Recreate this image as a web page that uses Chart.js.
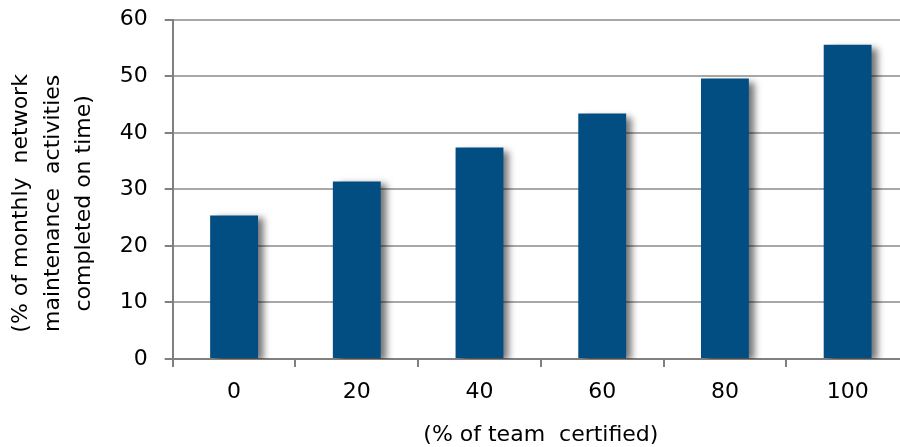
<!DOCTYPE html>
<html>
<head>
<meta charset="utf-8">
<script src="https://cdn.jsdelivr.net/npm/chart.js@4"></script>
<style>
  html, body { margin: 0; padding: 0; background: #fff; overflow: hidden; }
  #wrap { width: 909px; height: 447px; }
</style>
</head>
<body>
<div id="wrap"><canvas id="myChart" width="909" height="447"></canvas></div>
<script>
const categories = ['0', '20', '40', '60', '80', '100'];
const values = [25.4, 31.4, 37.4, 43.4, 49.6, 55.6];
const yTicks = [0, 10, 20, 30, 40, 50, 60];
const yTitle = ['(% of monthly  network    ', 'maintenance  activities    ', 'completed on time)    '];
const xTitle = '(% of team  certified)';

const font = 'DejaVu Sans';

// soft shadow behind the bars
const barShadow = {
    id: 'barShadow',
    beforeDatasetsDraw(chart) {
        const ctx = chart.ctx;
        ctx.save();
        ctx.shadowColor = 'rgba(0, 0, 0, 0.55)';
        ctx.shadowOffsetX = 6;
        ctx.shadowOffsetY = 3;
        ctx.shadowBlur = 7;
    },
    afterDatasetsDraw(chart) {
        chart.ctx.restore();
    }
};

const ctx = document.getElementById('myChart').getContext('2d');
const chart = new Chart(ctx, {
    type: 'bar',
    data: {
        labels: categories,
        datasets: [{
            data: values,
            backgroundColor: '#024e82',
            borderWidth: 0,
            categoryPercentage: 1,
            barPercentage: 0.39
        }]
    },
    options: {
        responsive: false,
        animation: false,
        layout: { padding: { top: 0, right: 0, left: 6, bottom: 0 } },
        plugins: {
            legend: { display: false },
            tooltip: { enabled: false }
        },
        scales: {
            x: {
                grid: {
                    drawOnChartArea: false,
                    drawTicks: true,
                    tickLength: 8,
                    tickColor: '#808080',
                    lineWidth: 2
                },
                border: { color: '#808080', width: 2 },
                ticks: {
                    color: '#000',
                    padding: 13,
                    font: { family: font, size: 22, lineHeight: 1.15 }
                },
                title: {
                    display: true,
                    text: xTitle,
                    color: '#000',
                    padding: { top: 4.5, bottom: 0 },
                    font: { family: font, size: 22, lineHeight: 1.1 }
                }
            },
            y: {
                min: 0,
                max: 60,
                afterBuildTicks(axis) {
                    axis.ticks = yTicks.map(v => ({ value: v }));
                },
                grid: {
                    color: '#a8a8a8',
                    lineWidth: 2,
                    tickLength: 8,
                    tickColor: '#808080'
                },
                border: { color: '#808080', width: 2 },
                ticks: {
                    color: '#000',
                    padding: 17,
                    font: { family: font, size: 22, lineHeight: 0.25 }
                },
                title: {
                    display: true,
                    text: yTitle,
                    color: '#000',
                    padding: { top: 0, bottom: 3 },
                    font: { family: font, size: 22, lineHeight: 1.42 }
                }
            }
        }
    },
    plugins: [barShadow]
});
</script>
</body>
</html>
